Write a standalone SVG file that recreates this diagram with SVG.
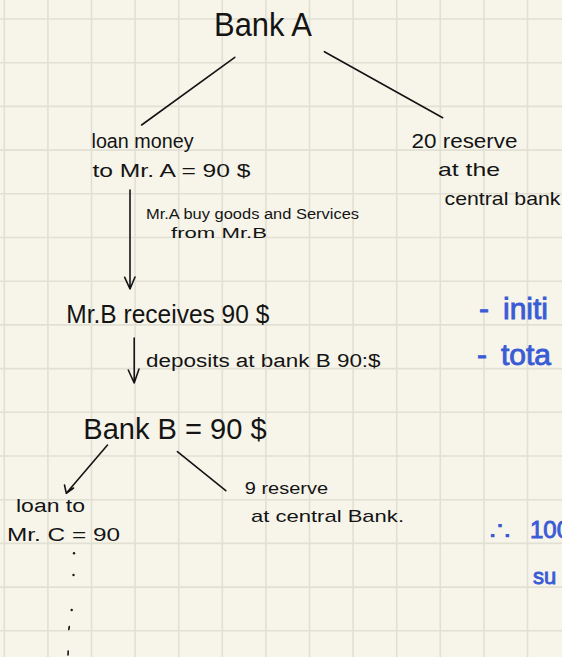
<svg xmlns="http://www.w3.org/2000/svg" width="562" height="657" viewBox="0 0 562 657">
  <style>
    .grid { stroke: #e2e0d3; stroke-width: 1.6; fill: none; }
    .ink { font-family: "Liberation Sans", "DejaVu Sans", sans-serif; fill: #141414; }
    .blue { font-family: "Liberation Sans", "DejaVu Sans", sans-serif; fill: #3a5bd6; stroke: #3a5bd6; stroke-width: 0.9; }
    .therefore { font-family: "DejaVu Sans", sans-serif; fill: #3a5bd6; }
    .line { stroke: #141414; stroke-width: 1.6; fill: none; stroke-linecap: round; stroke-linejoin: round; }
    .dot { fill: #141414; }
  </style>

  <!-- paper -->
  <rect width="562" height="657" fill="#f7f5ea"/>
  <path class="grid" d="M4.3 0V657M47.9 0V657M91.5 0V657M135.1 0V657M178.7 0V657M222.3 0V657M265.9 0V657M309.5 0V657M353.1 0V657M396.7 0V657M440.3 0V657M483.9 0V657M527.5 0V657
    M0 19H562M0 62.7H562M0 106.4H562M0 150.1H562M0 193.8H562M0 237.5H562M0 281.2H562M0 324.9H562M0 368.6H562M0 412.3H562M0 456H562M0 499.7H562M0 543.4H562M0 587.1H562M0 630.8H562"/>

  <!-- connectors -->
  <g id="connectors">
    <path class="line" d="M234.8 57.3L141.6 125"/>
    <path class="line" d="M324.4 51.7L442.7 117.7"/>
    <path class="line" d="M130 190V289M124.7 277.3L130 289L135 277"/>
    <path class="line" d="M134.2 338V383M128.3 370L134.2 383L139 369"/>
    <path class="line" d="M107.5 445L66.3 493.3M64.5 485L66.3 493.3L73.5 488"/>
    <path class="line" d="M177.4 451.7L225.8 490.7"/>
  </g>

  <g id="bank-a">
    <text class="ink" x="214" y="36" font-size="34" textLength="98" lengthAdjust="spacingAndGlyphs">Bank A</text>
  </g>

  <g id="loan-mr-a">
    <text class="ink" x="91.5" y="148" font-size="20" textLength="102" lengthAdjust="spacingAndGlyphs">loan money</text>
    <text class="ink" x="92.5" y="176.5" font-size="19" textLength="158" lengthAdjust="spacingAndGlyphs">to Mr. A = 90 $</text>
  </g>

  <g id="reserve-a">
    <text class="ink" x="411.5" y="148" font-size="20" textLength="106" lengthAdjust="spacingAndGlyphs">20 reserve</text>
    <text class="ink" x="438" y="176" font-size="19" textLength="62" lengthAdjust="spacingAndGlyphs">at the</text>
    <text class="ink" x="444.5" y="205" font-size="19" textLength="116" lengthAdjust="spacingAndGlyphs">central bank</text>
  </g>

  <g id="purchase-label">
    <text class="ink" x="146" y="218.5" font-size="14" textLength="213" lengthAdjust="spacingAndGlyphs">Mr.A buy goods and Services</text>
    <text class="ink" x="171" y="237.5" font-size="14" textLength="96" lengthAdjust="spacingAndGlyphs">from Mr.B</text>
  </g>

  <g id="mr-b">
    <text class="ink" x="66.3" y="323" font-size="25" textLength="203" lengthAdjust="spacingAndGlyphs">Mr.B receives 90 $</text>
  </g>

  <g id="deposit-label">
    <text class="ink" x="146" y="366.7" font-size="18" textLength="234.6" lengthAdjust="spacingAndGlyphs">deposits at bank B 90:$</text>
  </g>

  <g id="bank-b">
    <text class="ink" x="83.3" y="439.3" font-size="30" textLength="183.4" lengthAdjust="spacingAndGlyphs">Bank B = 90 $</text>
  </g>

  <g id="loan-mr-c">
    <text class="ink" x="16" y="511.7" font-size="18" textLength="69" lengthAdjust="spacingAndGlyphs">loan to</text>
    <text class="ink" x="7" y="540.7" font-size="18" textLength="113" lengthAdjust="spacingAndGlyphs">Mr. C = 90</text>
    <circle class="dot" cx="74" cy="553.3" r="1.2"/>
    <circle class="dot" cx="73.5" cy="575" r="1.2"/>
    <circle class="dot" cx="71.7" cy="610" r="1.2"/>
    <path class="line" d="M69.3 626.5L68.8 629.5"/>
    <path class="line" d="M68.2 651L68 655"/>
  </g>

  <g id="reserve-b">
    <text class="ink" x="244.8" y="494" font-size="17" textLength="83.2" lengthAdjust="spacingAndGlyphs">9 reserve</text>
    <text class="ink" x="251" y="521.7" font-size="17" textLength="153" lengthAdjust="spacingAndGlyphs">at central Bank.</text>
  </g>

  <!-- side notes running off the right edge of the page -->
  <g id="notes">
    <text class="blue" x="479" y="319" font-size="30">-<tspan x="503">initi</tspan></text>
    <text class="blue" x="477" y="365" font-size="30">-<tspan x="501">tota</tspan></text>
    <text class="therefore" x="489" y="540" font-size="26" textLength="22" lengthAdjust="spacingAndGlyphs">∴</text>
    <text class="blue" x="530" y="538" font-size="24">100</text>
    <text class="blue" x="533" y="583.5" font-size="22">su</text>
  </g>
</svg>
